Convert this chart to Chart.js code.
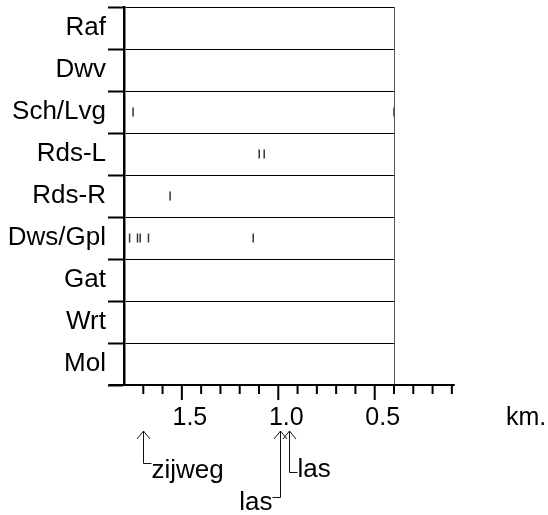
<!DOCTYPE html>
<html>
<head>
<meta charset="utf-8">
<script src="https://cdn.jsdelivr.net/npm/chart.js@4/dist/chart.umd.min.js"></script>
<style>
  html, body { margin: 0; padding: 0; background: #fff; }
  canvas { display: block; }
</style>
</head>
<body>
<canvas id="kmChart" width="548" height="515"></canvas>
<script>
//Chart data
const categories = ['Raf', 'Dwv', 'Sch/Lvg', 'Rds-L', 'Rds-R', 'Dws/Gpl', 'Gat', 'Wrt', 'Mol'];
const rafKm = [];
const dwvKm = [];
const schLvgKm = [1.753, 0.40];
const rdsLKm = [1.099, 1.073];
const rdsRKm = [1.561];
const dwsGplKm = [1.771, 1.730, 1.716, 1.673, 1.130];
const gatKm = [];
const wrtKm = [];
const molKm = [];

//Axis ticks
const tickValues = [1.5, 1.0, 0.5];
const tickLabels = ['1.5', '1.0', '0.5'];
const minorTickValues = [1.7, 1.6, 1.4, 1.3, 1.2, 1.1, 0.9, 0.8, 0.7, 0.6, 0.4, 0.3, 0.2, 0.1];

//Arrow notes under the axis
const noteKm = [1.7, 0.99, 0.945];
const noteText = ['zijweg', 'las', 'las'];

const FONT = { family: '"Liberation Sans", Arial, sans-serif', size: 26 };
const TICK_FONT = { family: '"Liberation Sans", Arial, sans-serif', size: 25 };

//Build scatter points from the row arrays
function buildPoints() {
  const rows = [rafKm, dwvKm, schLvgKm, rdsLKm, rdsRKm, dwsGplKm, gatKm, wrtKm, molKm];
  const points = [];
  rows.forEach((row, i) => {
    row.forEach(km => points.push({ x: km, y: categories[i] }));
  });
  return points;
}

//Frame, extended km axis and the arrow notes
const framePlugin = {
  id: 'frame',
  afterDraw(chart) {
    const ctx = chart.ctx;
    const area = chart.chartArea;
    const xs = chart.scales.x;
    const px = v => xs.getPixelForValue(v);

    ctx.save();
    //right border of the box
    ctx.strokeStyle = '#555';
    ctx.lineWidth = 1;
    ctx.beginPath();
    ctx.moveTo(area.right + 0.5, area.top);
    ctx.lineTo(area.right + 0.5, area.bottom);
    ctx.stroke();

    //axis line runs past the box on both sides
    ctx.strokeStyle = '#000';
    ctx.lineWidth = 2;
    ctx.beginPath();
    ctx.moveTo(px(1.88), area.bottom);
    ctx.lineTo(px(0.085), area.bottom);
    ctx.stroke();

    ctx.beginPath();
    minorTickValues.forEach(v => {
      ctx.moveTo(px(v), area.bottom);
      ctx.lineTo(px(v), area.bottom + 9);
    });
    tickValues.forEach(v => {
      ctx.moveTo(px(v), area.bottom);
      ctx.lineTo(px(v), area.bottom + 15);
    });
    ctx.stroke();

    //unit
    ctx.fillStyle = '#000';
    ctx.font = TICK_FONT.size + 'px ' + TICK_FONT.family;
    ctx.textBaseline = 'alphabetic';
    ctx.textAlign = 'left';
    ctx.fillText('km.', 506, 425);

    //arrows: elbow height and which side the word sits on
    ctx.font = FONT.size + 'px ' + FONT.family;
    const elbowY = [463, 497, 472];
    const side = [1, -1, 1];
    const baseOff = [15, 13, 5];
    ctx.lineWidth = 1;
    ctx.strokeStyle = '#111';
    noteKm.forEach((km, i) => {
      const x = Math.round(px(km)) + 0.5;
      const tip = 431;
      ctx.beginPath();
      ctx.moveTo(x - 6.5, tip + 8);
      ctx.lineTo(x, tip);
      ctx.lineTo(x + 6.5, tip + 8);
      ctx.moveTo(x, tip);
      ctx.lineTo(x, elbowY[i] + 0.5);
      ctx.lineTo(x + side[i] * 8, elbowY[i] + 0.5);
      ctx.stroke();
      ctx.textAlign = side[i] > 0 ? 'left' : 'right';
      ctx.fillText(noteText[i], x + side[i] * 8, elbowY[i] + baseOff[i]);
    });
    ctx.restore();
  }
};

//Create the chart
function createChart() {
  const ctx = document.getElementById('kmChart').getContext('2d');
  /* global Chart */
  return new Chart(ctx, {
    type: 'scatter',
    data: {
      datasets: [{
        data: buildPoints(),
        pointStyle: 'line',
        rotation: 90,
        radius: 4.5,
        borderWidth: 1.5,
        borderColor: '#333',
        backgroundColor: '#333'
      }]
    },
    options: {
      responsive: false,
      animation: false,
      layout: { padding: { top: 7, right: 154, left: 0, bottom: 0 } },
      plugins: {
        legend: { display: false },
        tooltip: { enabled: false }
      },
      scales: {
        x: {
          type: 'linear',
          min: 0.4,
          max: 1.8,
          reverse: true,
          grid: { display: false },
          border: { display: false },
          ticks: {
            color: '#000',
            font: TICK_FONT,
            padding: 10,
            labelOffset: 8,
            maxRotation: 0,
            callback: v => tickLabels[tickValues.indexOf(v)]
          },
          afterBuildTicks(scale) {
            scale.ticks = tickValues.map(v => ({ value: v }));
          },
          afterFit(scale) {
            scale.height = 130;
            scale.paddingLeft = 0;
            scale.paddingRight = 0;
          }
        },
        y: {
          type: 'category',
          labels: categories,
          offset: true,
          grid: {
            offset: true,
            color: '#000',
            lineWidth: 1,
            tickLength: 16,
            tickWidth: 2,
            tickColor: '#000'
          },
          border: { color: '#000', width: 2.5 },
          ticks: { color: '#000', font: FONT, padding: 2 },
          afterFit(scale) {
            scale.width = 124;
            scale.paddingTop = 0;
            scale.paddingBottom = 0;
          }
        }
      }
    },
    plugins: [framePlugin]
  });
}

document.addEventListener('DOMContentLoaded', createChart);
</script>
</body>
</html>
